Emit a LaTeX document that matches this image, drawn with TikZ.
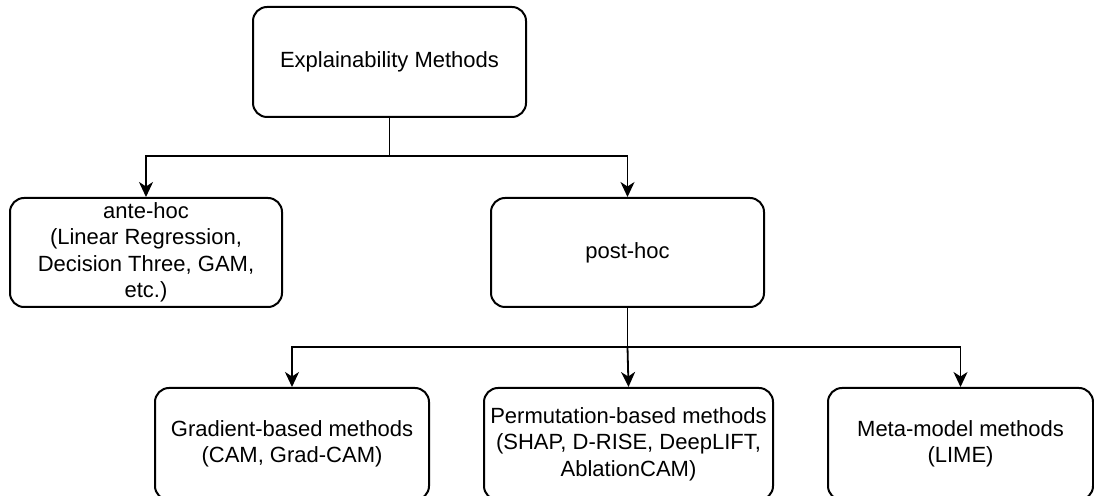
\documentclass[tikz,border=0pt]{standalone}
\usepackage{fontspec}
\setmainfont{Liberation Sans}
\usetikzlibrary{arrows.meta}
\begin{document}
\begin{tikzpicture}[x=1pt,y=1pt,
  box/.style={draw=black, line width=2pt, rounded corners=14pt, align=center,
    font=\fontsize{22}{26.5}\selectfont, inner sep=0pt, text=black},
  link/.style={draw=black, line width=1.8pt},
  arr/.style={link, -{Stealth[length=15pt,width=14pt,inset=4.5pt]}}]
\useasboundingbox (0,0) rectangle (1094,495);
\node[box, minimum width=273pt, minimum height=110pt] (top) at (389.5,433) {Explainability Methods};
\node[box, minimum width=272pt, minimum height=109pt] (ante) at (146,242.5)
  {ante-hoc\\(Linear Regression,\\Decision Three, GAM,\\etc.)};
\node[box, minimum width=273pt, minimum height=109pt] (post) at (627.5,242.5) {post-hoc};
\node[box, minimum width=274pt, minimum height=112pt] (grad) at (292,51)
  {Gradient-based methods\\(CAM, Grad-CAM)};
\node[box, minimum width=289pt, minimum height=112pt] (perm) at (628.5,51)
  {Permutation-based methods\\(SHAP, D-RISE, DeepLIFT,\\AblationCAM)};
\node[box, minimum width=265pt, minimum height=112pt] (meta) at (960.5,51)
  {Meta-model methods\\(LIME)};
\coordinate (j1) at (top.south |- 0,339);
\coordinate (j2) at (post.south |- 0,148);
\draw[link] (top.south) -- (j1);
\draw[arr] (j1) -| (ante.north);
\draw[arr] (j1) -| (post.north);
\draw[link] (post.south) -- (j2);
\draw[arr] (j2) -| (grad.north);
\draw[arr] (j2) -- (perm.north);
\draw[arr] (j2) -| (meta.north);
\end{tikzpicture}
\end{document}
